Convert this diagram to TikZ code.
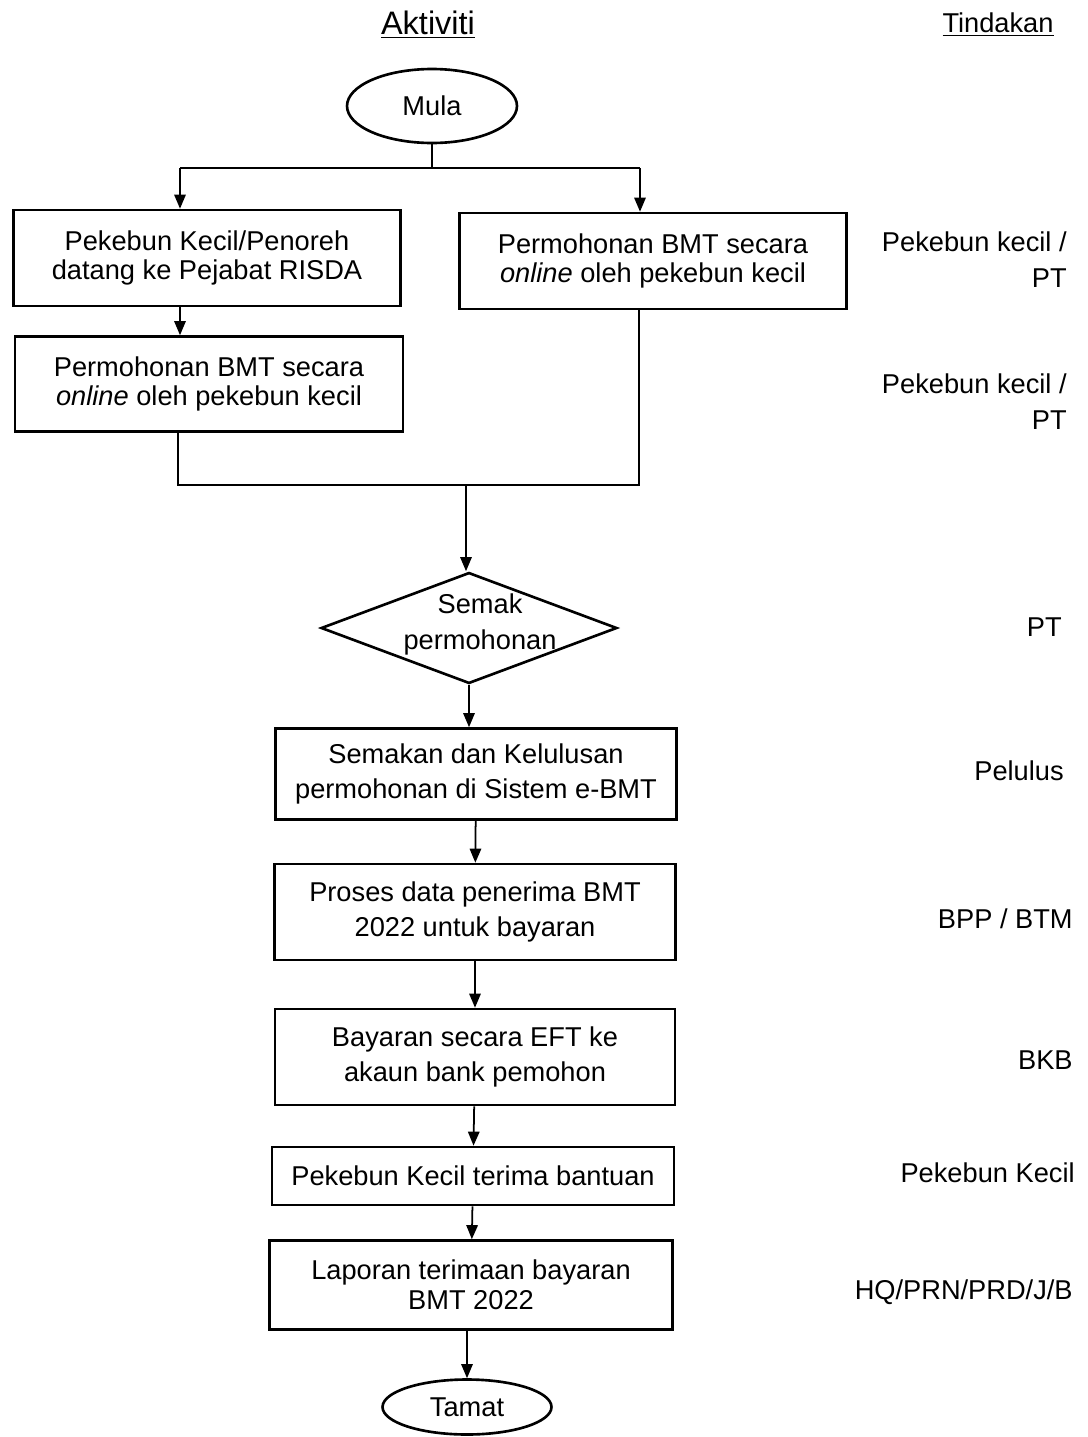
\documentclass[tikz,border=0pt]{standalone}
\usepackage{fontspec}
\setmainfont{Liberation Sans}
\usetikzlibrary{arrows.meta, shapes.geometric}

\tikzset{
  box/.style={draw, line width=1.5pt, align=center, inner sep=2pt},
  term/.style={draw, ellipse, line width=1.5pt, inner sep=0pt},
  arr/.style={line width=1pt, -{Triangle[length=8pt,width=6.5pt]}},
  ln/.style={line width=1pt},
  who/.style={anchor=east, align=right, inner sep=0pt},
}

\begin{document}
\begin{tikzpicture}[x=0.02cm, y=-0.02cm, font=\fontsize{15.5}{17}\selectfont]
\useasboundingbox (0,0) rectangle (1088,1437);

% headings
\node[font=\fontsize{18.5}{20}\selectfont] (hakt) at (428,25) {\underline{Aktiviti}};
\node (htin) at (998,25) {\underline{Tindakan}};

% start
\node[term, minimum width=3.4cm, minimum height=1.48cm] (mula) at (432,106) {Mula};

% two ways in
\node[box, minimum width=7.74cm, minimum height=1.92cm] (datang) at (207,258)
  {Pekebun Kecil/Penoreh\\datang ke Pejabat RISDA};
\node[box, minimum width=7.74cm, minimum height=1.92cm] (online) at (653,261)
  {Permohonan BMT secara\\\textit{online} oleh pekebun kecil};
\node[box, minimum width=7.76cm, minimum height=1.9cm] (mohon) at (209,384)
  {Permohonan BMT secara\\\textit{online} oleh pekebun kecil};

% check
\node[draw, diamond, line width=1.5pt, minimum width=5.92cm, minimum height=2.22cm, inner sep=0pt] (semak) at (469,628) {};
\node[align=center, font=\fontsize{15.5}{20.5}\selectfont] (semaktxt) at (480,624) {Semak\\permohonan};

% steps
\node[box, minimum width=8.02cm, minimum height=1.82cm, font=\fontsize{15.5}{20}\selectfont] (lulus) at (476,774)
  {Semakan dan Kelulusan\\permohonan di Sistem e-BMT};
\node[box, minimum width=8.02cm, minimum height=1.92cm, font=\fontsize{15.5}{20}\selectfont] (proses) at (475,912)
  {Proses data penerima BMT\\2022 untuk bayaran};
\node[box, minimum width=8.0cm, minimum height=1.92cm, font=\fontsize{15.5}{20}\selectfont] (eft) at (475,1057)
  {Bayaran secara EFT ke\\akaun bank pemohon};
\node[box, minimum width=8.04cm, minimum height=1.16cm] (terima) at (473,1176)
  {Pekebun Kecil terima bantuan};
\node[box, minimum width=8.06cm, minimum height=1.78cm] (lapor) at (471,1285)
  {Laporan terimaan bayaran\\BMT 2022};

% end
\node[term, minimum width=3.38cm, minimum height=1.1cm] (tamat) at (467,1407) {Tamat};

% connectors
\coordinate (split) at (432,168);
\coordinate (splitL) at (180,168);
\coordinate (splitR) at (640,168);
\draw[ln] (mula) -- (split);
\draw[ln] (splitL) -- (splitR);
\draw[arr] (splitL) -- (splitL |- datang.north);
\draw[arr] (splitR) -- (splitR |- online.north);
\draw[arr] (datang.south -| splitL) -- (mohon.north -| splitL);

\coordinate (joinL) at (178,485);
\coordinate (joinR) at (639,485);
\coordinate (join) at (466,485);
\draw[ln] (mohon.south -| joinL) -- (joinL) -- (joinR) -- (online.south -| joinR);
\draw[arr] (join) -- (join |- semak.north);

\draw[arr] (semak.south) -- (semak.south |- lulus.north);
\draw[arr] (lulus) -- (proses);
\draw[arr] (proses) -- (eft);
\draw[arr] (eft) -- (terima);
\draw[arr] (terima) -- (lapor);
\draw[arr] (lapor.south -| tamat.north) -- (tamat.north);

% who does it
\node[who, font=\fontsize{15.5}{20.5}\selectfont] (t1) at (1067,260) {Pekebun kecil /\\PT};
\node[who, font=\fontsize{15.5}{20.5}\selectfont] (t2) at (1067,402) {Pekebun kecil /\\PT};
\node[who] (t3) at (1062,627) {PT};
\node[who] (t4) at (1064,771) {Pelulus};
\node[who] (t5) at (1073,919) {BPP / BTM};
\node[who] (t6) at (1073,1060) {BKB};
\node[who] (t7) at (1075,1173) {Pekebun Kecil};
\node[who] (t8) at (1073,1292) {HQ/PRN/PRD/J/B};
\end{tikzpicture}
\end{document}
